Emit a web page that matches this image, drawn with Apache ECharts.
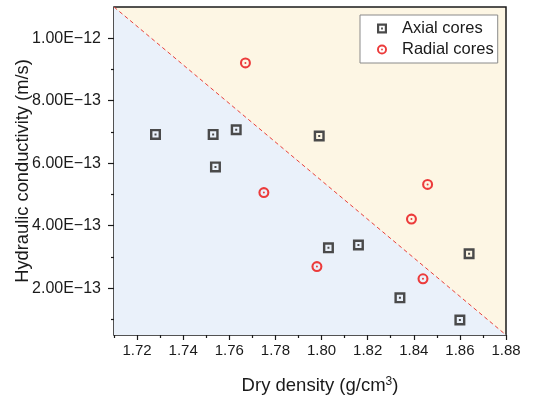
<!DOCTYPE html>
<html>
<head>
<meta charset="utf-8">
<script src="https://cdn.jsdelivr.net/npm/echarts@6/dist/echarts.min.js"></script>
<style>html,body{margin:0;padding:0;background:#fff;}#c{width:541px;height:398px;}</style>
</head>
<body>
<div id="c"></div>
<script>
// Data (dry density g/cm3, hydraulic conductivity m/s)
const axialDensity = [1.728, 1.753, 1.763, 1.799, 1.754, 1.803, 1.816, 1.864, 1.834, 1.860];
const axialK = [6.92e-13, 6.92e-13, 7.07e-13, 6.87e-13, 5.88e-13, 3.29e-13, 3.38e-13, 3.10e-13, 1.69e-13, 0.98e-13];
const radialDensity = [1.767, 1.775, 1.846, 1.839, 1.798, 1.844];
const radialK = [9.21e-13, 5.06e-13, 5.32e-13, 4.21e-13, 2.69e-13, 2.30e-13];
// Dividing boundary line (from top-left corner to bottom-right corner)
const boundaryDensity = [1.71, 1.88];
const boundaryK = [1.1e-12, 5e-14];
// Axes
const xMin = 1.71, xMax = 1.88;
const yMin = 5e-14, yMax = 1.1e-12;
const xTickValues = [1.72, 1.74, 1.76, 1.78, 1.80, 1.82, 1.84, 1.86, 1.88];
const xTickLabels = ['1.72', '1.74', '1.76', '1.78', '1.80', '1.82', '1.84', '1.86', '1.88'];
const xMinorTicks = [1.71, 1.73, 1.75, 1.77, 1.79, 1.81, 1.83, 1.85, 1.87];
const yTickValues = [2e-13, 4e-13, 6e-13, 8e-13, 1e-12];
const yTickLabels = ['2.00E\u221213', '4.00E\u221213', '6.00E\u221213', '8.00E\u221213', '1.00E\u221212'];
const yMinorTicks = [1e-13, 3e-13, 5e-13, 7e-13, 9e-13];
const seriesNames = ['Axial cores', 'Radial cores'];

const squareSym = 'path://M0,0H10V10H0Z M2.2,2.2V7.8H7.8V2.2Z M4.1,4.1H5.9V5.9H4.1Z';
const circleSym = 'path://M5,0A5,5 0 1,1 5,10A5,5 0 1,1 5,0Z M5,1.9A3.1,3.1 0 1,0 5,8.1A3.1,3.1 0 1,0 5,1.9Z M5,4.1A0.9,0.9 0 1,1 5,5.9A0.9,0.9 0 1,1 5,4.1Z';

const font = 'Liberation Sans, Arial, sans-serif';
const textColor = '#1a1a1a';

function findLabel(vals, labels, v, eps) {
  for (let i = 0; i < vals.length; i++) if (Math.abs(vals[i] - v) < eps) return labels[i];
  return '';
}

const chart = echarts.init(document.getElementById('c'), null, {renderer: 'canvas'});
chart.setOption({
  animation: false,
  backgroundColor: '#ffffff',
  grid: {
    left: 114, right: 35, top: 7, bottom: 63,
    containLabel: false, outerBoundsMode: 'none',
    show: true, backgroundColor: '#fdf6e4', borderColor: '#1a1a1a', borderWidth: 1.5
  },
  legend: {
    orient: 'vertical', left: 360, top: 15,
    data: seriesNames,
    backgroundColor: '#ffffff', borderColor: '#8a8a8a', borderWidth: 1,
    padding: [5, 4, 5, 17], itemGap: 4,
    itemWidth: 30, itemHeight: 10,
    textStyle: {fontFamily: font, fontSize: 16.5, color: textColor}
  },
  xAxis: [{
    type: 'value', min: xMin, max: xMax,
    name: 'Dry density (g/cm{sup|3})', nameLocation: 'middle', nameGap: 41, nameMoveOverlap: false,
    nameTextStyle: {fontFamily: font, fontSize: 18.5, color: textColor, padding: [0, 0, 0, 20],
      rich: {sup: {fontFamily: font, fontSize: 12, color: textColor, verticalAlign: 'top', padding: [0, 0, 8, 0]}}},
    axisLine: {show: false},
    splitLine: {show: false},
    axisTick: {show: true, inside: false, length: 5, customValues: xTickValues, lineStyle: {color: '#1a1a1a', width: 1.2}},
    axisLabel: {show: true, customValues: xTickValues, margin: 8, fontFamily: font, fontSize: 15, color: textColor,
      formatter: v => findLabel(xTickValues, xTickLabels, v, 1e-6)}
  }, {
    type: 'value', min: xMin, max: xMax, position: 'bottom', offset: 0,
    axisLine: {show: false}, splitLine: {show: false}, axisLabel: {show: false},
    axisTick: {show: true, length: 3, customValues: xMinorTicks, lineStyle: {color: '#1a1a1a', width: 1.2}}
  }],
  yAxis: [{
    type: 'value', min: yMin, max: yMax,
    name: 'Hydraulic conductivity (m/s)', nameLocation: 'middle', nameGap: 82, nameRotate: 90, nameMoveOverlap: false,
    nameTextStyle: {fontFamily: font, fontSize: 18.3, color: textColor},
    axisLine: {show: false},
    splitLine: {show: false},
    axisTick: {show: true, inside: false, length: 6, customValues: yTickValues, lineStyle: {color: '#1a1a1a', width: 1.2}},
    axisLabel: {show: true, customValues: yTickValues, margin: 13, fontFamily: font, fontSize: 16, color: textColor,
      formatter: v => findLabel(yTickValues, yTickLabels, v, 1e-15)}
  }, {
    type: 'value', min: yMin, max: yMax, position: 'left', offset: 0,
    axisLine: {show: false}, splitLine: {show: false}, axisLabel: {show: false},
    axisTick: {show: true, length: 3, customValues: yMinorTicks, lineStyle: {color: '#1a1a1a', width: 1.2}}
  }],
  series: [{
    name: 'boundary', type: 'line',
    data: boundaryDensity.map((x, i) => [x, boundaryK[i]]),
    showSymbol: false, symbol: 'none', silent: true,
    lineStyle: {color: '#e8403a', width: 1, type: [4, 3]},
    areaStyle: {color: '#eaf1fa', opacity: 1, origin: 'start'},
    z: 1
  }, {
    name: seriesNames[0], type: 'scatter',
    data: axialDensity.map((x, i) => [x, axialK[i]]),
    symbol: squareSym, symbolSize: 11,
    itemStyle: {color: '#4a4a4a', opacity: 1},
    z: 3
  }, {
    name: seriesNames[1], type: 'scatter',
    data: radialDensity.map((x, i) => [x, radialK[i]]),
    symbol: circleSym, symbolSize: 11,
    itemStyle: {color: '#ec3b3b', opacity: 1},
    z: 3
  }]
});
</script>
</body>
</html>
